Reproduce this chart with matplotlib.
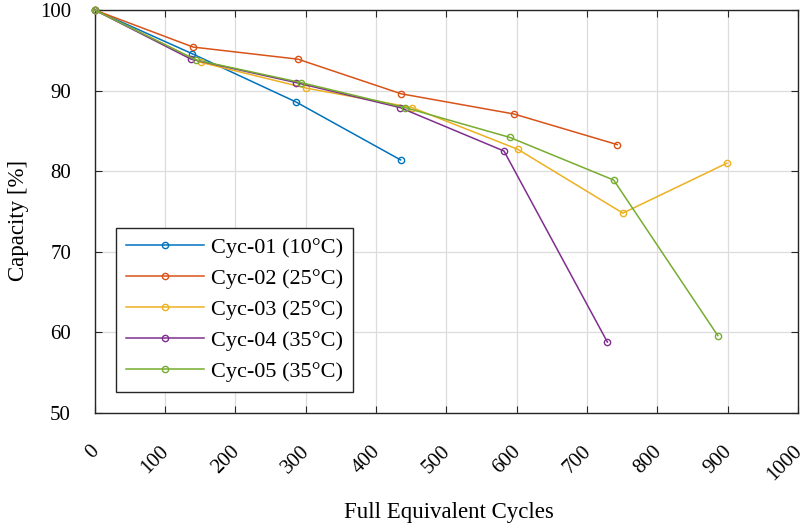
import matplotlib
matplotlib.use("Agg")
import matplotlib.pyplot as plt
import matplotlib.transforms as mtransforms

plt.rcParams['font.family'] = ['Liberation Serif', 'DejaVu Serif']

# cycles (FEC) and capacity (%) for each cell
fec_01 = [0, 138, 286, 435]
cap_01 = [100, 94.6, 88.6, 81.4]
fec_02 = [0, 140, 289, 436, 596, 743]
cap_02 = [100, 95.4, 93.9, 89.6, 87.1, 83.3]
fec_03 = [0, 151, 301, 451, 602, 751, 899]
cap_03 = [100, 93.5, 90.3, 87.9, 82.7, 74.8, 81.0]
fec_04 = [0, 137, 286, 434, 582, 729]
cap_04 = [100, 93.9, 91.0, 87.9, 82.5, 58.8]
fec_05 = [0, 144, 293, 441, 590, 738, 886]
cap_05 = [100, 93.8, 91.0, 87.9, 84.2, 78.9, 59.6]

labels = ["Cyc-01 (10°C)", "Cyc-02 (25°C)", "Cyc-03 (25°C)",
          "Cyc-04 (35°C)", "Cyc-05 (35°C)"]
colors = ['#0072BD', '#D95319', '#EDB120', '#7E2F8E', '#77AC30']
series = [(fec_01, cap_01), (fec_02, cap_02), (fec_03, cap_03),
          (fec_04, cap_04), (fec_05, cap_05)]

xticks = list(range(0, 1001, 100))
yticks = [50, 60, 70, 80, 90, 100]

fig = plt.figure(figsize=(8.05, 5.26), dpi=100)
ax = fig.add_axes([0.1176, 0.2148, 0.8737, 0.7662])

for (x, y), c, lab in zip(series, colors, labels):
    ax.plot(x, y, '-o', color=c, lw=1.1, ms=4.5, mfc='none', mew=1.0,
            label=lab, clip_on=False, zorder=3)

ax.set_xlim(0, 1000)
ax.set_ylim(50, 100)
ax.set_xticks(xticks)
ax.set_yticks(yticks)
ax.grid(True, color='#dcdcdc', lw=0.9)
ax.set_axisbelow(True)

axc = '#262626'
for s in ax.spines.values():
    s.set_color(axc)
    s.set_linewidth(1.0)
ax.tick_params(direction='in', length=5, width=0.8, colors=axc,
               top=True, right=True, labelsize=15, labelcolor='black')
ax.tick_params(axis='y', pad=17)
ax.tick_params(axis='x', pad=21)

# rotated x labels: top-right corner a little right of the tick
offset = mtransforms.ScaledTranslation(8 / 100, 0, fig.dpi_scale_trans)
for t in ax.get_xticklabels():
    t.set_rotation(45)
    t.set_ha('right')
    t.set_va('top')
    t.set_transform(t.get_transform() + offset)

ax.set_xlabel("Full Equivalent Cycles", fontsize=16.5)
ax.xaxis.set_label_coords(0.504, -0.221)
ax.set_ylabel("Capacity [%]", fontsize=16.5, va='center')
ax.yaxis.set_label_coords(-0.109, 0.479)

lgd = ax.legend(loc='lower left', bbox_to_anchor=(0.030, 0.052), borderaxespad=0,
                fontsize=16, fancybox=False, framealpha=1, edgecolor=axc,
                handlelength=3.5, handletextpad=0.35, borderpad=0.45,
                labelspacing=0.47)
lgd.get_frame().set_linewidth(1.0)

fig.savefig("out.png", dpi=100)
